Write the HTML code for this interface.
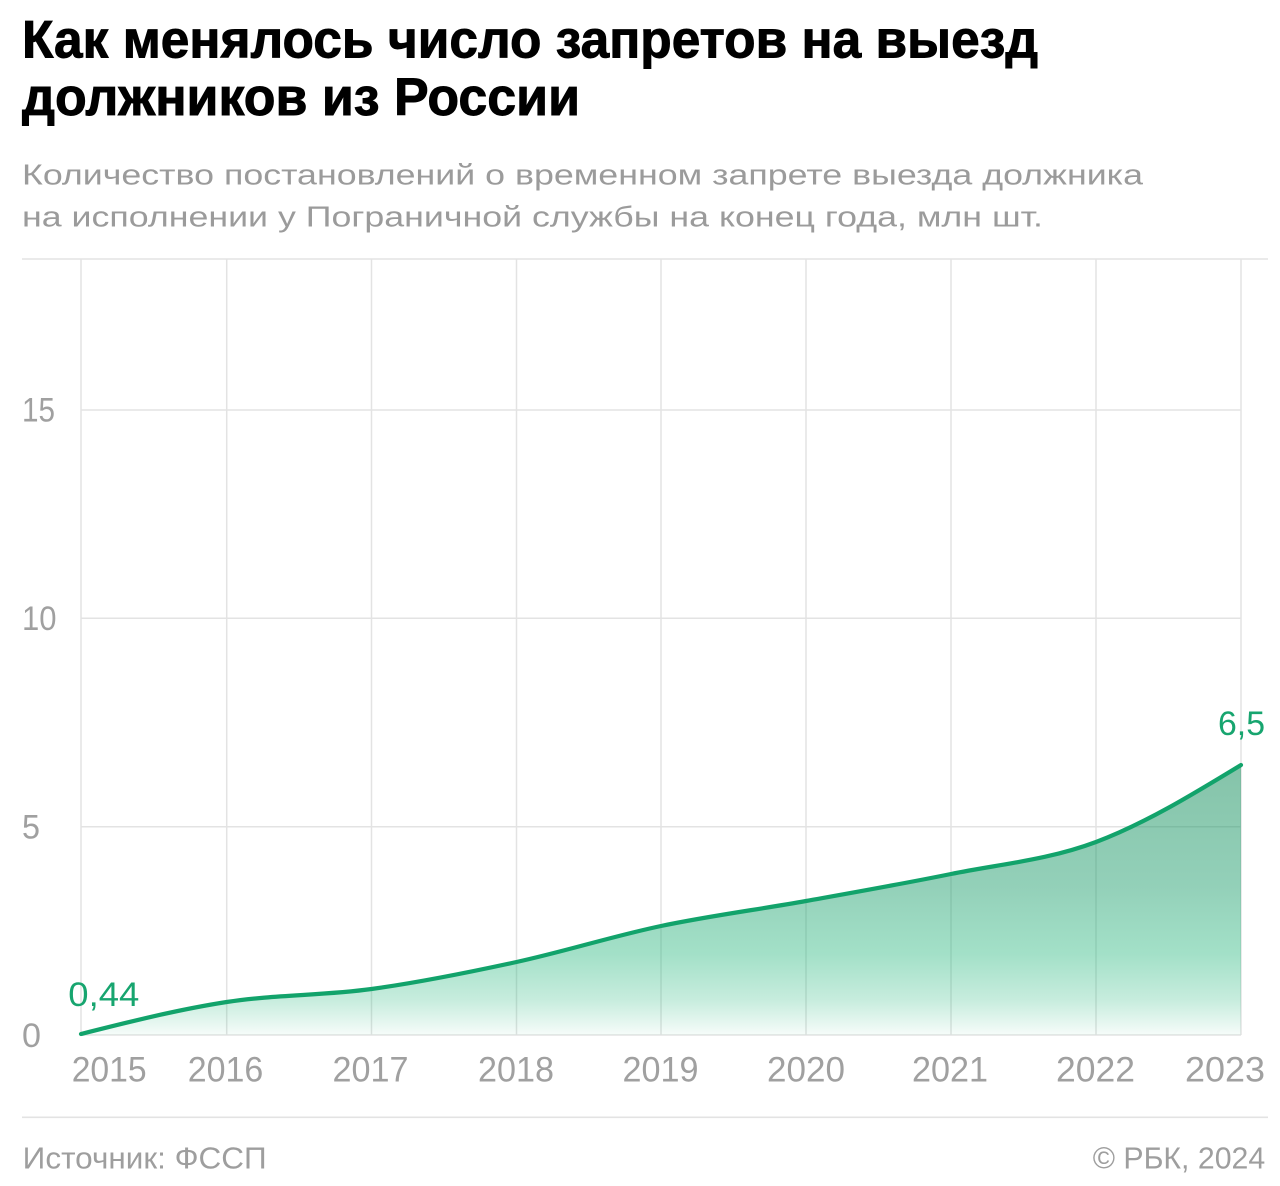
<!DOCTYPE html>
<html>
<head>
<meta charset="utf-8">
<style>
  html, body { margin: 0; padding: 0; background: #ffffff; }
  svg { display: block; }
  text { font-family: "Liberation Sans", "DejaVu Sans", sans-serif; }
</style>
</head>
<body>
<svg width="1280" height="1186" viewBox="0 0 1280 1186" xmlns="http://www.w3.org/2000/svg">
  <defs>
    <linearGradient id="fillGrad" gradientUnits="userSpaceOnUse" x1="0" y1="765" x2="0" y2="1035">
      <stop offset="0" stop-color="rgb(20,140,90)" stop-opacity="0.52"/>
      <stop offset="0.45" stop-color="rgb(25,155,105)" stop-opacity="0.47"/>
      <stop offset="0.7" stop-color="rgb(30,180,120)" stop-opacity="0.41"/>
      <stop offset="0.87" stop-color="rgb(30,180,120)" stop-opacity="0.25"/>
      <stop offset="1" stop-color="rgb(30,180,120)" stop-opacity="0.04"/>
    </linearGradient>
  </defs>

  <!-- Title -->
  <text x="22" y="57.7" font-size="53" font-weight="bold" fill="#000" stroke="#000" stroke-width="0.9" textLength="1016" lengthAdjust="spacingAndGlyphs">Как менялось число запретов на выезд</text>
  <text x="22" y="115" font-size="53" font-weight="bold" fill="#000" stroke="#000" stroke-width="0.9" textLength="558" lengthAdjust="spacingAndGlyphs">должников из России</text>

  <!-- Subtitle -->
  <text x="22" y="184.3" font-size="29" fill="#9b9b9b" textLength="1121" lengthAdjust="spacingAndGlyphs">Количество постановлений о временном запрете выезда должника</text>
  <text x="22" y="226.5" font-size="29" fill="#9b9b9b" textLength="1021" lengthAdjust="spacingAndGlyphs">на исполнении у Пограничной службы на конец года, млн шт.</text>

  <!-- Top and bottom rules -->
  <line x1="22" y1="259" x2="1268" y2="259" stroke="#e3e3e3" stroke-width="1.6"/>
  <line x1="22" y1="1117.3" x2="1268" y2="1117.3" stroke="#e3e3e3" stroke-width="1.6"/>

  <!-- Vertical gridlines -->
  <g stroke="#e3e3e3" stroke-width="1.5">
    <line x1="81" y1="259" x2="81" y2="1035"/>
    <line x1="226.7" y1="259" x2="226.7" y2="1035"/>
    <line x1="371.5" y1="259" x2="371.5" y2="1035"/>
    <line x1="516.5" y1="259" x2="516.5" y2="1035"/>
    <line x1="661" y1="259" x2="661" y2="1035"/>
    <line x1="806" y1="259" x2="806" y2="1035"/>
    <line x1="951" y1="259" x2="951" y2="1035"/>
    <line x1="1096" y1="259" x2="1096" y2="1035"/>
    <line x1="1241" y1="259" x2="1241" y2="1035"/>
  </g>
  <!-- Horizontal gridlines -->
  <g stroke="#e3e3e3" stroke-width="1.5">
    <line x1="81" y1="410" x2="1241" y2="410"/>
    <line x1="81" y1="618.3" x2="1241" y2="618.3"/>
    <line x1="81" y1="826.7" x2="1241" y2="826.7"/>
    <line x1="81" y1="1035" x2="1241" y2="1035"/>
  </g>

  <!-- Y tick labels -->
  <g font-size="34" fill="#a0a0a0">
    <text x="22" y="421.5" textLength="33" lengthAdjust="spacingAndGlyphs">15</text>
    <text x="22" y="630" textLength="34.5" lengthAdjust="spacingAndGlyphs">10</text>
    <text x="22" y="838.5" textLength="18" lengthAdjust="spacingAndGlyphs">5</text>
    <text x="22" y="1047" textLength="19" lengthAdjust="spacingAndGlyphs">0</text>
  </g>

  <!-- Area fill -->
  <path d="M81,1034 C129.57,1021.76 178.13,1009.51 226.7,1002 C274.97,994.53 323.23,995.66 371.5,989 C419.83,982.33 468.17,972.52 516.5,962 C564.67,951.51 612.83,936.15 661,926 C709.33,915.81 757.67,909.67 806,901 C854.33,892.33 902.67,883.84 951,874 C999.33,864.16 1047.67,860.17 1096,842 C1144.33,823.83 1192.67,794.41 1241,765 L1241,1035 L81,1035 Z" fill="url(#fillGrad)"/>

  <!-- Line -->
  <path d="M81,1034 C129.57,1021.76 178.13,1009.51 226.7,1002 C274.97,994.53 323.23,995.66 371.5,989 C419.83,982.33 468.17,972.52 516.5,962 C564.67,951.51 612.83,936.15 661,926 C709.33,915.81 757.67,909.67 806,901 C854.33,892.33 902.67,883.84 951,874 C999.33,864.16 1047.67,860.17 1096,842 C1144.33,823.83 1192.67,794.41 1241,765" fill="none" stroke="#12a36b" stroke-width="4.2" stroke-linecap="round" stroke-linejoin="round"/>

  <!-- Value labels -->
  <text x="68.3" y="1006" font-size="34" fill="#17a56f" textLength="71" lengthAdjust="spacingAndGlyphs">0,44</text>
  <text x="1218" y="735" font-size="34" fill="#17a56f" textLength="47" lengthAdjust="spacingAndGlyphs">6,5</text>

  <!-- X tick labels -->
  <g font-size="35" fill="#a0a0a0">
    <text x="71.7" y="1081.7" textLength="75" lengthAdjust="spacingAndGlyphs">2015</text>
    <text x="187.7" y="1081.7" textLength="75.6" lengthAdjust="spacingAndGlyphs">2016</text>
    <text x="332.5" y="1081.7" textLength="76" lengthAdjust="spacingAndGlyphs">2017</text>
    <text x="478" y="1081.7" textLength="76" lengthAdjust="spacingAndGlyphs">2018</text>
    <text x="622.5" y="1081.7" textLength="76" lengthAdjust="spacingAndGlyphs">2019</text>
    <text x="767" y="1081.7" textLength="78" lengthAdjust="spacingAndGlyphs">2020</text>
    <text x="912" y="1081.7" textLength="76" lengthAdjust="spacingAndGlyphs">2021</text>
    <text x="1056" y="1081.7" textLength="79" lengthAdjust="spacingAndGlyphs">2022</text>
    <text x="1185" y="1081.7" textLength="80" lengthAdjust="spacingAndGlyphs">2023</text>
  </g>

  <!-- Footer -->
  <text x="22.7" y="1168.5" font-size="30.5" fill="#9e9e9e" textLength="244" lengthAdjust="spacingAndGlyphs">Источник: ФССП</text>
  <text x="1092.7" y="1168.5" font-size="30.5" fill="#9e9e9e" textLength="172.5" lengthAdjust="spacingAndGlyphs">© РБК, 2024</text>
</svg>
</body>
</html>
